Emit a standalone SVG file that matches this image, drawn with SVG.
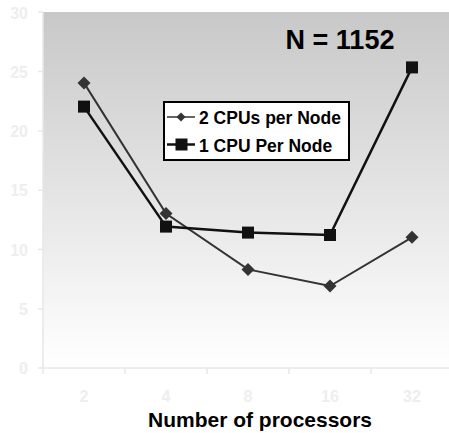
<svg xmlns="http://www.w3.org/2000/svg" width="449" height="433" viewBox="0 0 449 433">
<defs>
<linearGradient id="bg" x1="0" y1="0" x2="0" y2="1">
<stop offset="0" stop-color="#c8c8c8"/>
<stop offset="0.9" stop-color="#fafafa"/>
<stop offset="1" stop-color="#ffffff"/>
</linearGradient>
<marker id="dia" markerWidth="16" markerHeight="16" refX="8" refY="8" markerUnits="userSpaceOnUse">
<path d="M8 1.5 L14.5 8 L8 14.5 L1.5 8 Z" fill="#333"/>
</marker>
<marker id="sq" markerWidth="14" markerHeight="14" refX="7" refY="7" markerUnits="userSpaceOnUse">
<rect x="1" y="1" width="12" height="12" fill="#111"/>
</marker>
</defs>
<style>
.ax{stroke:#e8e8e8;stroke-width:1.5;fill:none}
.tl{font-family:"Liberation Sans",Arial,sans-serif;font-weight:bold;font-size:16px;fill:#eeeeee}
.b{font-family:"Liberation Sans",Arial,sans-serif;font-weight:bold;fill:#000}
.s2{stroke:#333;stroke-width:2;fill:none}
.s1{stroke:#111;stroke-width:2.5;fill:none}
</style>
<rect width="449" height="433" fill="#fff"/>
<rect id="plot-area" x="43" y="12" width="406" height="356" fill="url(#bg)"/>
<g id="axes">
<path class="ax" d="M43 12 V368 H449"/>
<path class="ax" d="M38 12 H43 M38 71.4 H43 M38 130.8 H43 M38 190.2 H43 M38 249.6 H43 M38 309 H43 M38 368 H43"/>
<path class="ax" d="M43 368 V374 M125 368 V374 M207 368 V374 M289 368 V374 M371 368 V374"/>
<text class="tl" x="28" y="19" text-anchor="end">30</text>
<text class="tl" x="28" y="78" text-anchor="end">25</text>
<text class="tl" x="28" y="137" text-anchor="end">20</text>
<text class="tl" x="28" y="196" text-anchor="end">15</text>
<text class="tl" x="28" y="256" text-anchor="end">10</text>
<text class="tl" x="28" y="315" text-anchor="end">5</text>
<text class="tl" x="28" y="374" text-anchor="end">0</text>
<text class="tl" x="84" y="401.5" text-anchor="middle">2</text>
<text class="tl" x="166" y="401.5" text-anchor="middle">4</text>
<text class="tl" x="248" y="401.5" text-anchor="middle">8</text>
<text class="tl" x="330" y="401.5" text-anchor="middle">16</text>
<text class="tl" x="412" y="401.5" text-anchor="middle">32</text>
<text class="b" x="260" y="427" font-size="21" text-anchor="middle">Number of processors</text>
</g>
<g id="connectors">
<polyline id="series-2cpu" class="s2" points="84,82.9 166,213.6 248,269.4 330,286 412,237.3" marker-start="url(#dia)" marker-mid="url(#dia)" marker-end="url(#dia)"/>
<polyline id="series-1cpu" class="s1" points="84,106.6 166,226.6 248,232.6 330,235 412,67.4" marker-start="url(#sq)" marker-mid="url(#sq)" marker-end="url(#sq)"/>
</g>
<g id="title">
<text class="b" x="340" y="49" font-size="27" text-anchor="middle">N = 1152</text>
</g>
<g id="legend">
<rect x="164" y="102" width="185" height="58" fill="#fff" stroke="#000" stroke-width="2"/>
<line x1="167" y1="117" x2="195" y2="117" stroke="#333" stroke-width="1.5"/>
<path d="M181 112.5 L185.5 117 L181 121.5 L176.5 117 Z" fill="#333"/>
<text class="b" x="199" y="124" font-size="17.5">2 CPUs per Node</text>
<line x1="167" y1="144.5" x2="195" y2="144.5" stroke="#111" stroke-width="2.5"/>
<rect x="175.5" y="138.5" width="12" height="12" fill="#111"/>
<text class="b" x="199" y="151.5" font-size="17.5">1 CPU Per Node</text>
</g>
</svg>
